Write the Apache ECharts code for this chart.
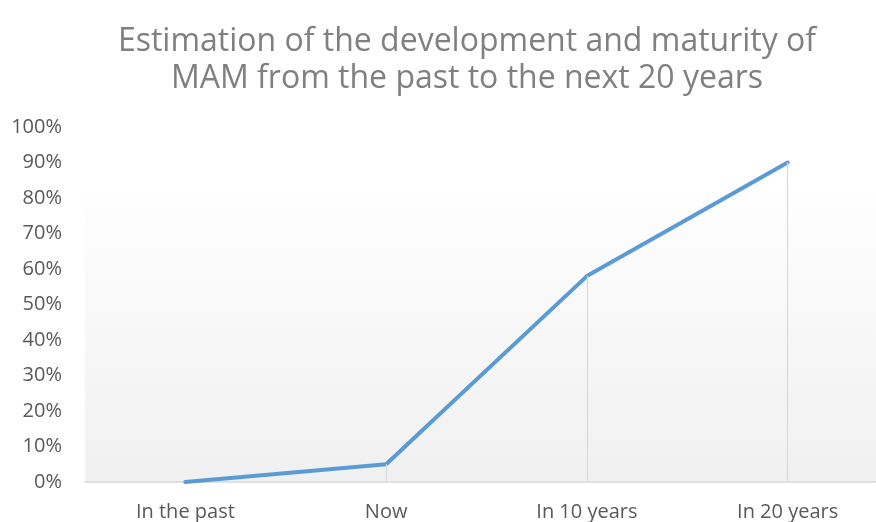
<!DOCTYPE html>
<html>
<head>
<meta charset="utf-8">
<script src="https://cdn.jsdelivr.net/npm/echarts@6/dist/echarts.min.js"></script>
<style>
  html, body { margin: 0; padding: 0; background: #ffffff; }
  #chart { width: 876px; height: 522px; }
</style>
</head>
<body>
<div id="chart"></div>
<script>
// Maturity estimate, by period
const periods = ['In the past', 'Now', 'In 10 years', 'In 20 years'];
const maturity = [0, 5, 58, 90];
const yTicks = [0, 10, 20, 30, 40, 50, 60, 70, 80, 90, 100];

const chart = echarts.init(document.getElementById('chart'));

// periods sit at integer positions on a value axis so the plot can run past the right edge
const points = maturity.map((v, i) => [i, v]);

// vertical drop lines from each point down to the axis
const dropLines = points
  .filter(p => p[1] > 0)
  .map(p => [{ coord: [p[0], 0] }, { coord: [p[0], p[1]] }]);

chart.setOption({
  animation: false,
  backgroundColor: '#ffffff',
  title: {
    text: 'Estimation of the development and maturity of\nMAM from the past to the next 20 years',
    left: 462,
    top: 18,
    textAlign: 'center',
    textStyle: {
      fontFamily: 'Open Sans',
      fontSize: 32,
      fontWeight: 'normal',
      color: '#808080',
      lineHeight: 37
    }
  },
  grid: {
    left: 85,
    right: 0,
    top: 127,
    height: 355,
    show: true,
    borderWidth: 0,
    backgroundColor: new echarts.graphic.LinearGradient(0, 0, 0, 1, [
      { offset: 0, color: '#ffffff' },
      { offset: 0.15, color: '#ffffff' },
      { offset: 1, color: '#f0f0f0' }
    ])
  },
  xAxis: {
    type: 'value',
    min: -0.5,
    max: 3.44,
    splitLine: { show: false },
    axisLine: { lineStyle: { color: '#d9d9d9', width: 1.5 } },
    axisTick: { show: false },
    axisLabel: {
      customValues: [0, 1, 2, 3],
      fontFamily: 'Open Sans',
      fontSize: 20,
      color: '#595959',
      margin: 20,
      formatter: v => periods[Math.round(v)]
    }
  },
  yAxis: {
    type: 'value',
    min: yTicks[0],
    max: yTicks[yTicks.length - 1],
    interval: 10,
    axisLine: { show: false },
    axisTick: { show: false },
    splitLine: { show: false },
    axisLabel: {
      fontFamily: 'Open Sans',
      fontSize: 20,
      color: '#595959',
      margin: 23,
      formatter: v => v + '%'
    }
  },
  series: [{
    type: 'line',
    data: points,
    symbol: 'none',
    lineStyle: { color: '#5b9bd5', width: 4, cap: 'round', join: 'round' },
    markLine: {
      silent: true,
      symbol: 'none',
      label: { show: false },
      lineStyle: { color: '#d9d9d9', width: 1.2, type: 'solid' },
      data: dropLines
    },
    z: 3
  }]
});
</script>
</body>
</html>
